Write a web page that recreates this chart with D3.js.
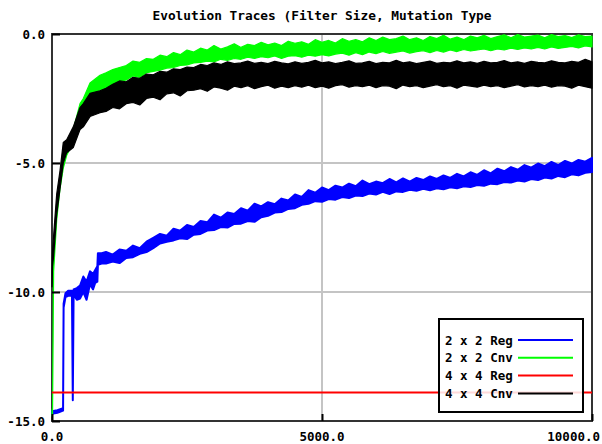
<!DOCTYPE html>
<html>
<head>
<meta charset="utf-8">
<script src="https://cdn.jsdelivr.net/npm/d3@7"></script>
<style>
  body { margin: 0; background: #fff; }
  text { font-family: "DejaVu Sans Mono", monospace; font-weight: bold; }
</style>
</head>
<body>
<div id="vis"></div>
<script>
// Constants for the chart
const FRAME_WIDTH = 602;
const FRAME_HEIGHT = 444;
const MARGINS = {left: 52, right: 10, top: 34, bottom: 23};

// Labels and ticks
const TITLE = "Evolution Traces (Filter Size, Mutation Type";
const SERIES_NAMES = ["2 x 2 Reg", "2 x 2 Cnv", "4 x 4 Reg", "4 x 4 Cnv"];
const SERIES_COLORS = ["#0000ff", "#00ff00", "#ff0000", "#000000"];
const X_TICKS = [0, 5000, 10000];
const Y_TICKS = [0, -5, -10, -15];

// Traces, each kept as a lower / upper envelope
const LONG_X = [1000, 1125, 1250, 1375, 1500, 1625, 1750, 1875, 2000, 2125, 2250, 2375, 2500, 2625, 2750, 2875,
  3000, 3125, 3250, 3375, 3500, 3625, 3750, 3875, 4000, 4125, 4250, 4375, 4500, 4625, 4750, 4875,
  5000, 5125, 5250, 5375, 5500, 5625, 5750, 5875, 6000, 6125, 6250, 6375, 6500, 6625, 6750, 6875,
  7000, 7125, 7250, 7375, 7500, 7625, 7750, 7875, 8000, 8125, 8250, 8375, 8500, 8625, 8750, 8875,
  9000, 9125, 9250, 9375, 9500, 9625, 9750, 9875, 10000];

// 2 x 2 Reg
const REG2_EARLY_X = [0, 100, 205, 215, 250, 300, 370, 385, 400, 460, 519, 580, 640, 704, 760, 800, 840, 850, 920];
const REG2_EARLY_LO = [-14.72, -14.68, -14.6, -10.6, -10.2, -10.15, -10.15, -14.2, -10.1, -10.3, -10.25, -10.0,
  -10.3, -9.7, -9.9, -9.65, -9.6, -8.95, -8.9];
const REG2_EARLY_HI = [-14.62, -14.58, -14.5, -10.45, -10.05, -9.95, -9.95, -14.2, -9.9, -9.85, -9.75, -9.4,
  -9.6, -9.2, -9.3, -9.15, -9.0, -8.5, -8.5];
const REG2_LO = [-8.90, -8.82, -8.88, -8.68, -8.65, -8.52, -8.45, -8.30, -8.12, -8.05, -8.00, -7.92, -7.95, -7.78,
  -7.75, -7.62, -7.60, -7.48, -7.50, -7.36, -7.35, -7.25, -7.28, -7.10, -7.05, -6.92, -6.90, -6.78, -6.75, -6.62,
  -6.58, -6.48, -6.50, -6.40, -6.42, -6.32, -6.36, -6.26, -6.28, -6.18, -6.22, -6.12, -6.20, -6.10, -6.12, -6.04,
  -6.08, -6.00, -6.06, -5.98, -6.02, -5.94, -5.98, -5.90, -5.93, -5.85, -5.88, -5.80, -5.82, -5.74, -5.76, -5.68,
  -5.72, -5.62, -5.66, -5.56, -5.60, -5.50, -5.55, -5.44, -5.48, -5.38, -5.35];
const REG2_HI = [-8.45, -8.55, -8.35, -8.40, -8.20, -8.30, -8.05, -7.90, -7.75, -7.82, -7.55, -7.62, -7.40, -7.48,
  -7.25, -7.30, -7.00, -7.12, -6.92, -6.98, -6.75, -6.85, -6.58, -6.68, -6.52, -6.60, -6.38, -6.45, -6.22, -6.32,
  -6.05, -6.15, -5.95, -6.05, -5.88, -5.95, -5.80, -5.90, -5.68, -5.82, -5.72, -5.78, -5.62, -5.75, -5.60, -5.72,
  -5.58, -5.66, -5.52, -5.62, -5.48, -5.58, -5.42, -5.52, -5.36, -5.46, -5.28, -5.40, -5.22, -5.32, -5.16, -5.26,
  -5.08, -5.18, -5.02, -5.12, -4.96, -5.08, -4.92, -5.02, -4.88, -4.95, -4.80];

// 4 x 4 Reg
const REG4_X = [0, 10000];
const REG4_Y = [-13.9, -13.9];

// 2 x 2 Cnv and 4 x 4 Cnv
const CNV_EARLY_X = [0, 10, 30, 87, 148, 209, 272, 394, 519, 580, 704, 889];
const CNV2_EARLY_LO = [-14.8, -14.7, -9.2, -7.2, -6.0, -5.2, -4.7, -4.2, -3.3, -3.1, -2.6, -2.2];
const CNV2_EARLY_HI = [-14.6, -14.5, -8.4, -6.6, -5.6, -4.6, -4.2, -3.7, -2.7, -2.5, -1.9, -1.6];
const CNV2_LO = [-2.10, -1.95, -1.85, -1.78, -1.62, -1.68, -1.50, -1.45, -1.40, -1.32, -1.30, -1.22, -1.20, -1.12,
  -1.10, -1.05, -1.08, -0.98, -1.02, -0.95, -0.98, -0.90, -0.95, -0.88, -0.92, -0.85, -0.95, -0.86, -0.84, -0.90,
  -0.82, -0.86, -0.80, -0.85, -0.78, -0.74, -0.82, -0.72, -0.80, -0.70, -0.76, -0.68, -0.75, -0.70, -0.66, -0.74,
  -0.68, -0.65, -0.72, -0.64, -0.70, -0.62, -0.68, -0.60, -0.66, -0.62, -0.58, -0.65, -0.58, -0.62, -0.55, -0.60,
  -0.54, -0.58, -0.52, -0.58, -0.50, -0.56, -0.52, -0.48, -0.54, -0.46, -0.50];
const CNV2_HI = [-1.50, -1.38, -1.30, -1.22, -1.05, -1.10, -0.95, -0.98, -0.82, -0.88, -0.72, -0.80, -0.62, -0.70,
  -0.55, -0.62, -0.45, -0.58, -0.50, -0.38, -0.52, -0.40, -0.45, -0.32, -0.42, -0.35, -0.45, -0.28, -0.36, -0.30,
  -0.40, -0.22, -0.32, -0.25, -0.35, -0.18, -0.28, -0.22, -0.30, -0.15, -0.25, -0.12, -0.22, -0.18, -0.08, -0.22,
  -0.15, -0.25, -0.10, -0.18, -0.05, -0.20, -0.12, -0.22, -0.08, -0.15, -0.05, -0.18, -0.10, -0.03, -0.15, -0.02,
  -0.12, -0.08, -0.04, -0.15, -0.02, -0.10, -0.06, -0.14, -0.03, -0.10, -0.08];
const CNV4_EARLY_LO = [-9.8, -9.0, -8.6, -7.0, -6.0, -5.0, -4.6, -4.4, -3.7, -3.6, -3.2, -3.05];
const CNV4_EARLY_HI = [-9.2, -8.4, -7.8, -6.2, -5.3, -4.2, -4.1, -3.6, -2.85, -2.7, -2.3, -2.2];
const CNV4_LO = [-3.00, -2.85, -2.90, -2.70, -2.65, -2.75, -2.50, -2.45, -2.55, -2.32, -2.28, -2.40, -2.20, -2.18,
  -2.12, -2.22, -2.05, -2.10, -2.18, -2.02, -2.08, -2.00, -2.12, -2.04, -1.98, -2.10, -2.02, -2.08, -2.00, -2.06,
  -1.98, -2.08, -2.02, -2.10, -2.00, -1.96, -2.06, -2.00, -2.04, -1.98, -2.08, -2.00, -2.02, -2.12, -1.98, -2.04,
  -2.00, -2.08, -2.02, -1.96, -2.04, -2.00, -2.10, -1.98, -2.02, -2.06, -1.98, -2.04, -2.00, -2.08, -2.02, -1.96,
  -2.05, -2.00, -2.04, -1.98, -2.06, -2.00, -2.02, -2.10, -1.98, -2.04, -2.10];
const CNV4_HI = [-2.10, -1.95, -1.82, -1.85, -1.68, -1.72, -1.55, -1.58, -1.45, -1.48, -1.35, -1.38, -1.28, -1.30,
  -1.18, -1.22, -1.12, -1.18, -1.08, -1.15, -1.12, -1.05, -1.14, -1.10, -1.15, -1.06, -1.12, -1.16, -1.08, -1.14,
  -1.10, -1.02, -1.12, -1.08, -1.15, -1.10, -1.04, -1.14, -1.12, -1.06, -1.15, -1.10, -1.12, -1.02, -1.12, -1.08,
  -1.15, -1.10, -1.05, -1.14, -1.10, -1.12, -1.04, -1.12, -1.08, -1.14, -1.06, -1.12, -1.10, -1.03, -1.12, -1.08,
  -1.14, -1.06, -1.10, -1.12, -1.04, -1.10, -1.12, -1.06, -1.10, -0.98, -1.08];

// Scaling constants
const X_SCALE = d3.scaleLinear()
    .domain([0, 10000])
    .range([MARGINS.left, 592]);
const Y_SCALE = d3.scaleLinear()
    .domain([0, -15])
    .range([MARGINS.top, FRAME_HEIGHT - MARGINS.bottom]);

const FRAME = d3.select("#vis")
    .append("svg")
    .attr("width", FRAME_WIDTH)
    .attr("height", FRAME_HEIGHT);

const X0 = X_SCALE(0), X1 = X_SCALE(10000);
const Y0 = Y_SCALE(0), Y1 = Y_SCALE(-15);

// grid lines
FRAME.append("g").selectAll("line")
    .data(Y_TICKS.slice(1, -1))
    .enter().append("line")
    .attr("x1", X0).attr("x2", X1)
    .attr("y1", d => Y_SCALE(d)).attr("y2", d => Y_SCALE(d))
    .attr("stroke", "#c4c4c4").attr("stroke-width", 2);
FRAME.append("g").selectAll("line")
    .data(X_TICKS.slice(1, -1))
    .enter().append("line")
    .attr("x1", d => X_SCALE(d)).attr("x2", d => X_SCALE(d))
    .attr("y1", Y0).attr("y2", Y1)
    .attr("stroke", "#c4c4c4").attr("stroke-width", 2);

// frame
FRAME.append("rect")
    .attr("x", X0).attr("y", Y0)
    .attr("width", X1 - X0).attr("height", Y1 - Y0)
    .attr("fill", "none").attr("stroke", "#333").attr("stroke-width", 2);

// envelope band for a trace
function band(xs, lo, hi) {
  const pts = xs.map((x, i) => ({x: x, lo: lo[i], hi: hi[i]}));
  return d3.area()
      .x(d => X_SCALE(d.x))
      .y0(d => Y_SCALE(d.lo))
      .y1(d => Y_SCALE(d.hi))(pts);
}

FRAME.append("path")
    .attr("d", band(REG2_EARLY_X.concat(LONG_X), REG2_EARLY_LO.concat(REG2_LO), REG2_EARLY_HI.concat(REG2_HI)))
    .attr("fill", SERIES_COLORS[0]).attr("stroke", SERIES_COLORS[0])
    .attr("stroke-width", 2).attr("stroke-linejoin", "round");

FRAME.append("path")
    .attr("d", band(CNV_EARLY_X.concat(LONG_X), CNV2_EARLY_LO.concat(CNV2_LO), CNV2_EARLY_HI.concat(CNV2_HI)))
    .attr("fill", SERIES_COLORS[1]).attr("stroke", SERIES_COLORS[1])
    .attr("stroke-width", 1.2).attr("stroke-linejoin", "round");

FRAME.append("path")
    .datum(REG4_X.map((x, i) => [x, REG4_Y[i]]))
    .attr("d", d3.line().x(d => X_SCALE(d[0])).y(d => Y_SCALE(d[1])))
    .attr("fill", "none").attr("stroke", SERIES_COLORS[2]).attr("stroke-width", 2);

FRAME.append("path")
    .attr("d", band(CNV_EARLY_X.concat(LONG_X), CNV4_EARLY_LO.concat(CNV4_LO), CNV4_EARLY_HI.concat(CNV4_HI)))
    .attr("fill", SERIES_COLORS[3]).attr("stroke", SERIES_COLORS[3])
    .attr("stroke-width", 1.2).attr("stroke-linejoin", "round");

// axes with inward ticks
const yAxis = FRAME.append("g")
    .attr("transform", "translate(" + X0 + ",0)")
    .call(d3.axisRight(Y_SCALE).tickValues(Y_TICKS).tickSize(8).tickFormat(""));
const xAxis = FRAME.append("g")
    .attr("transform", "translate(0," + Y1 + ")")
    .call(d3.axisTop(X_SCALE).tickValues(X_TICKS).tickSize(7).tickFormat(""));
[yAxis, xAxis].forEach(a => {
  a.select(".domain").remove();
  a.selectAll(".tick line").attr("stroke", "#000").attr("stroke-width", 2);
});

// tick labels
FRAME.append("g").selectAll("text")
    .data(Y_TICKS)
    .enter().append("text")
    .attr("x", 45).attr("y", d => Y_SCALE(d) + 4.5)
    .attr("text-anchor", "end").attr("font-size", "12.5px")
    .text(d => d.toFixed(1));
FRAME.append("g").selectAll("text")
    .data(X_TICKS)
    .enter().append("text")
    .attr("x", (d, i) => i === X_TICKS.length - 1 ? 600 : X_SCALE(d))
    .attr("y", 441)
    .attr("text-anchor", (d, i) => i === X_TICKS.length - 1 ? "end" : "middle")
    .attr("font-size", "12.5px")
    .text(d => d.toFixed(1));

// title
FRAME.append("text")
    .attr("x", (X0 + X1) / 2).attr("y", 20)
    .attr("text-anchor", "middle").attr("font-size", "12.8px")
    .text(TITLE);

// legend
const LEGEND = FRAME.append("g");
LEGEND.append("rect")
    .attr("x", 439).attr("y", 319).attr("width", 144).attr("height", 93)
    .attr("fill", "#fff").attr("fill-opacity", 0.85)
    .attr("stroke", "#000").attr("stroke-width", 2);
SERIES_NAMES.forEach((name, i) => {
  const cy = 340 + i * 17.8;
  LEGEND.append("text")
      .attr("x", 445).attr("y", cy + 4.5)
      .attr("font-size", "12.5px")
      .text(name);
  LEGEND.append("line")
      .attr("x1", 518).attr("x2", 573)
      .attr("y1", cy).attr("y2", cy)
      .attr("stroke", SERIES_COLORS[i]).attr("stroke-width", 2);
});
</script>
</body>
</html>
